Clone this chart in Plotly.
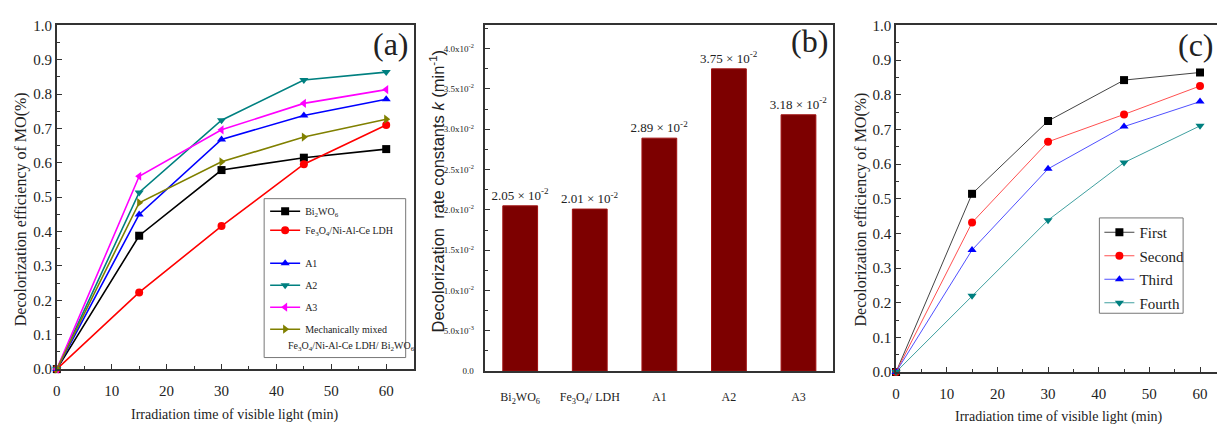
import plotly.graph_objects as go

# ---------------- data ----------------
time_min = [0, 15, 30, 45, 60]

# panel (a): decolorization efficiency of MO for each catalyst
eff_bi2wo6 = [0, 0.388, 0.579, 0.615, 0.640]
eff_fe3o4_ldh = [0, 0.223, 0.416, 0.596, 0.710]
eff_a1 = [0, 0.450, 0.668, 0.738, 0.785]
eff_a2 = [0, 0.514, 0.724, 0.841, 0.864]
eff_a3 = [0, 0.561, 0.696, 0.773, 0.813]
eff_mixed = [0, 0.484, 0.603, 0.675, 0.727]

# panel (b): rate constants k, in units of 10^-2 min^-1
samples = ["Bi<sub>2</sub>WO<sub>6</sub>", "Fe<sub>3</sub>O<sub>4</sub>/ LDH", "A1", "A2", "A3"]
k_e2 = [2.05, 2.01, 2.89, 3.75, 3.18]

# panel (c): recycling runs of A2
run_first = [0, 0.514, 0.724, 0.842, 0.864]
run_second = [0, 0.431, 0.664, 0.743, 0.825]
run_third = [0, 0.352, 0.586, 0.708, 0.780]
run_fourth = [0, 0.220, 0.438, 0.604, 0.710]

k_tickvals = [0, 0.005, 0.010, 0.015, 0.020, 0.025, 0.030, 0.035, 0.040]
k_ticktext = ["0.0", "5.0x10<sup>-3</sup>", "1.0x10<sup>-2</sup>", "1.5x10<sup>-2</sup>",
              "2.0x10<sup>-2</sup>", "2.5x10<sup>-2</sup>", "3.0x10<sup>-2</sup>",
              "3.5x10<sup>-2</sup>", "4.0x10<sup>-2</sup>"]

# ---------------- layout helpers ----------------
W, H = 1217, 432
SERIF = "Liberation Serif"
SANS = "Liberation Sans"
INK = "#222222"
AXIS = "#333333"


def fx(px):
    return px / W


def fy(py):
    return 1 - py / H


fig = go.Figure()

# ---------------- panel (a) ----------------
series_a = [
    ("Bi<sub>2</sub>WO<sub>6</sub>", eff_bi2wo6, "#000000", "square", "legend"),
    ("Fe<sub>3</sub>O<sub>4</sub>/Ni-Al-Ce LDH", eff_fe3o4_ldh, "#ff0000", "circle", "legend"),
    ("A1", eff_a1, "#0000ff", "triangle-up", "legend2"),
    ("A2", eff_a2, "#008080", "triangle-down", "legend2"),
    ("A3", eff_a3, "#ff00ff", "triangle-left", "legend2"),
    ("Mechanically mixed", eff_mixed, "#808000", "triangle-right", "legend2"),
]
for i, (name, vals, col, sym, leg) in enumerate(series_a):
    fig.add_trace(go.Scatter(
        x=time_min, y=vals, name=name, mode="lines+markers",
        line=dict(color=col, width=1.6),
        marker=dict(symbol=sym, size=8, color=col),
        xaxis="x", yaxis="y", legend=leg, legendgroup=f"a{i}",
        cliponaxis=False,
    ))

# ---------------- panel (b) ----------------
fig.add_trace(go.Bar(
    x=samples, y=[v * 1e-2 for v in k_e2],
    text=[f"{v:.2f} × 10<sup>-2</sup>" for v in k_e2],
    textposition="outside", constraintext="none", cliponaxis=False,
    textfont=dict(family=SERIF, size=13, color=INK),
    marker=dict(color="#7d0000", line=dict(color="#a01010", width=1)),
    width=0.5, showlegend=False, xaxis="x2", yaxis="y2",
))

# ---------------- panel (c) ----------------
series_c = [
    ("First", run_first, "#000000", "#444444", "square"),
    ("Second", run_second, "#ff0000", "#ff5050", "circle"),
    ("Third", run_third, "#0000ff", "#5050ff", "triangle-up"),
    ("Fourth", run_fourth, "#008080", "#40a0a0", "triangle-down"),
]
for i, (name, vals, col, lcol, sym) in enumerate(series_c):
    fig.add_trace(go.Scatter(
        x=time_min, y=vals, name=name, mode="lines+markers",
        line=dict(color=lcol, width=1),
        marker=dict(symbol=sym, size=8, color=col),
        xaxis="x3", yaxis="y3", legend="legend3", legendgroup=f"c{i}",
        cliponaxis=False,
    ))

tickfont = dict(family=SERIF, size=15, color=INK)
common = dict(showline=True, linecolor=AXIS, linewidth=1.5, showgrid=False,
              zeroline=False, ticks="inside", tickcolor=AXIS, ticklen=5, tickwidth=1.2)

fig.update_layout(
    width=W, height=H, margin=dict(l=0, r=0, t=0, b=0),
    paper_bgcolor="white", plot_bgcolor="white",
    font=dict(family=SERIF, color=INK),
    # panel (a) axes
    xaxis=dict(domain=[fx(53), fx(411)], range=[0, 65], anchor="y", mirror=True,
               tickvals=[0, 10, 20, 30, 40, 50, 60], tickfont=tickfont,
               ticklabelstandoff=7,
               minor=dict(ticks="inside", ticklen=3, dtick=5, tickcolor=AXIS), **common),
    yaxis=dict(domain=[fy(375), fy(18)], range=[0, 1.0], anchor="x", mirror=True,
               dtick=0.1, tickformat=".1f", tickfont=tickfont,
               minor=dict(ticks="inside", ticklen=3, dtick=0.05, tickcolor=AXIS), **common),
    # panel (b) axes
    xaxis2=dict(domain=[fx(483), fx(832)], range=[-0.5, 4.5], anchor="y2", mirror=True,
                showline=True, linecolor=AXIS, linewidth=1.5, showgrid=False, ticks="",
                ticklabelstandoff=14,
                tickfont=dict(family=SERIF, size=12, color=INK)),
    yaxis2=dict(domain=[fy(377), fy(18)], range=[0, 0.0429], anchor="x2", mirror=True,
                tickvals=k_tickvals, ticktext=k_ticktext, ticklabelstandoff=8,
                tickfont=dict(family=SERIF, size=9, color=INK),
                minor=dict(ticks="inside", ticklen=3, dtick=0.0025, tickcolor=AXIS), **common),
    # panel (c) axes (frame open on the right)
    xaxis3=dict(domain=[fx(895), 1.0], range=[0, 63.35], anchor="y3", mirror=True,
                tickvals=[0, 10, 20, 30, 40, 50, 60], tickfont=tickfont,
                ticklabelstandoff=7,
                minor=dict(ticks="inside", ticklen=3, dtick=5, tickcolor=AXIS), **common),
    yaxis3=dict(domain=[fy(378), fy(18)], range=[0, 1.0], anchor="x3", mirror=False,
                dtick=0.1, tickformat=".1f", tickfont=tickfont,
                minor=dict(ticks="inside", ticklen=3, dtick=0.05, tickcolor=AXIS), **common),
    legend=dict(x=fx(262), y=fy(196), xanchor="left", yanchor="top",
                bgcolor="rgba(0,0,0,0)", borderwidth=0, tracegroupgap=0,
                font=dict(family=SERIF, size=10, color=INK), itemwidth=30),
    legend2=dict(x=fx(262), y=fy(250), xanchor="left", yanchor="top",
                 bgcolor="rgba(0,0,0,0)", borderwidth=0, tracegroupgap=3,
                 font=dict(family=SERIF, size=10, color=INK), itemwidth=30),
    legend3=dict(x=fx(1099), y=fy(216), xanchor="left", yanchor="top",
                 bgcolor="rgba(0,0,0,0)", borderwidth=0, tracegroupgap=1,
                 font=dict(family=SERIF, size=15, color=INK), itemwidth=30),
)

# legend frames
fig.add_shape(type="rect", xref="paper", yref="paper",
              x0=fx(261), x1=fx(403), y0=fy(363), y1=fy(198),
              line=dict(color="#777777", width=1))
fig.add_shape(type="rect", xref="paper", yref="paper",
              x0=fx(1099), x1=fx(1183), y0=fy(317), y1=fy(218),
              line=dict(color="#777777", width=1))

annotations = [
    # second line of the mechanically-mixed legend entry
    dict(x=fx(283), y=fy(352), text="Fe<sub>3</sub>O<sub>4</sub>/Ni-Al-Ce LDH/ Bi<sub>2</sub>WO<sub>6</sub>",
         xanchor="left", yanchor="middle", font=dict(family=SERIF, size=10, color=INK)),
    # panel letters
    dict(x=fx(388), y=fy(37), text="(a)", xanchor="center", yanchor="middle",
         font=dict(family=SERIF, size=32, color=INK)),
    dict(x=fx(808), y=fy(34), text="(b)", xanchor="center", yanchor="middle",
         font=dict(family=SERIF, size=32, color=INK)),
    dict(x=fx(1216), y=fy(38), text="(c)", xanchor="right", yanchor="middle",
         font=dict(family=SERIF, size=32, color=INK)),
    # axis titles
    dict(x=fx(232), y=fy(423), text="Irradiation time of visible light (min)",
         xanchor="center", yanchor="middle", font=dict(family=SERIF, size=14, color=INK)),
    dict(x=fx(1058), y=fy(425), text="Irradiation time of visible light (min)",
         xanchor="center", yanchor="middle", font=dict(family=SERIF, size=14, color=INK)),
    dict(x=fx(17), y=fy(209), text="Decolorization efficiency of MO(%)", textangle=-90,
         xanchor="center", yanchor="middle", font=dict(family=SERIF, size=16, color=INK)),
    dict(x=fx(860), y=fy(209), text="Decolorization efficiency of MO(%)", textangle=-90,
         xanchor="center", yanchor="middle", font=dict(family=SERIF, size=16, color=INK)),
    dict(x=fx(434), y=fy(190), text="Decolorization  rate constants <i>k</i> (min<sup>-1</sup>)",
         textangle=-90, xanchor="center", yanchor="middle",
         font=dict(family=SANS, size=16.5, color=INK)),
]
for a in annotations:
    a.update(xref="paper", yref="paper", showarrow=False)
fig.update_layout(annotations=annotations)

fig.write_html("out.html")
